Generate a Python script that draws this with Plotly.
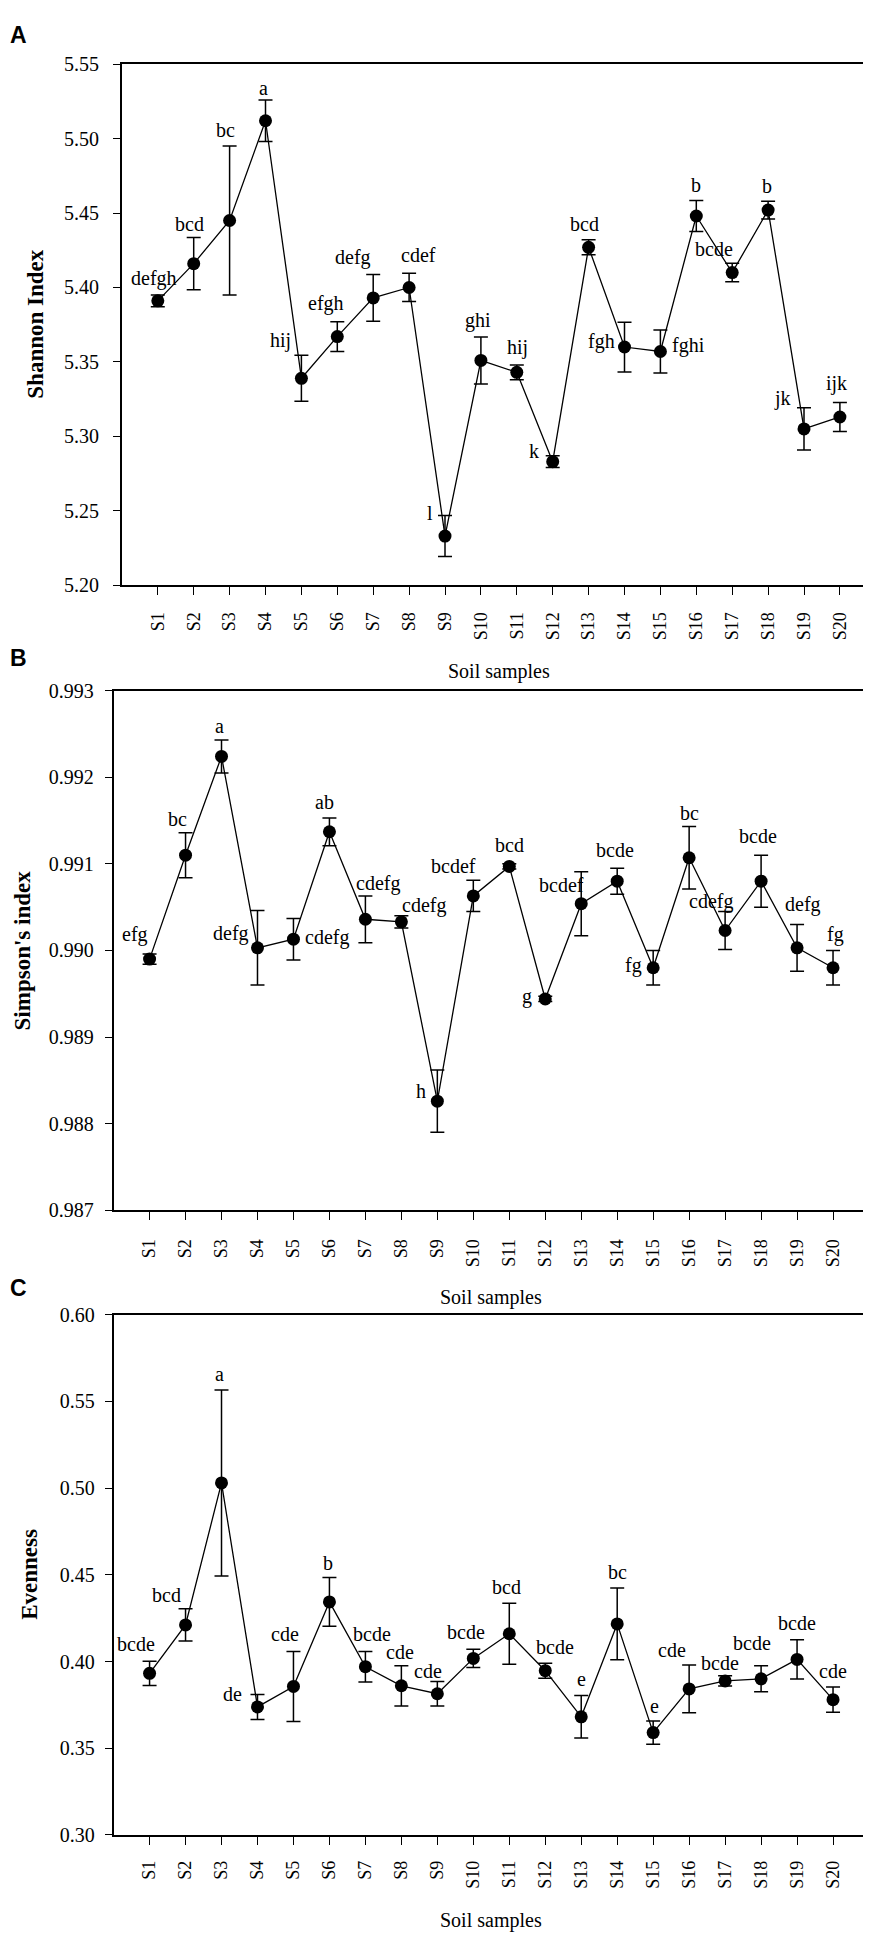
import plotly.graph_objects as go

W, H = 871, 1938

samples = ["S1", "S2", "S3", "S4", "S5", "S6", "S7", "S8", "S9", "S10",
           "S11", "S12", "S13", "S14", "S15", "S16", "S17", "S18", "S19", "S20"]

# Panel A - Shannon Index
shannon = [5.391, 5.416, 5.445, 5.512, 5.339, 5.367, 5.393, 5.400, 5.233, 5.351,
           5.343, 5.283, 5.427, 5.360, 5.357, 5.448, 5.410, 5.452, 5.305, 5.313]
shannon_err = [0.004, 0.0175, 0.050, 0.014, 0.0155, 0.010, 0.0157, 0.0095, 0.0138, 0.0158,
               0.005, 0.004, 0.005, 0.0167, 0.0145, 0.0104, 0.0062, 0.006, 0.0142, 0.0098]
shannon_letters = ["defgh", "bcd", "bc", "a", "hij", "efgh", "defg", "cdef", "l", "ghi",
                   "hij", "k", "bcd", "fgh", "fghi", "b", "bcde", "b", "jk", "ijk"]

# Panel B - Simpson's index
simpson = [0.98990, 0.99110, 0.99224, 0.99003, 0.99013, 0.99137, 0.99036, 0.99033, 0.98826, 0.99063,
           0.99097, 0.98944, 0.99054, 0.99080, 0.98980, 0.99107, 0.99023, 0.99080, 0.99003, 0.98980]
simpson_err = [0.00006, 0.00026, 0.00019, 0.00043, 0.00024, 0.00016, 0.00027, 0.00007, 0.00036, 0.00018,
               0.00003, 0.00003, 0.00037, 0.00015, 0.00020, 0.00036, 0.00022, 0.00030, 0.00027, 0.00020]
simpson_letters = ["efg", "bc", "a", "defg", "cdefg", "ab", "cdefg", "cdefg", "h", "bcdef",
                   "bcd", "g", "bcdef", "bcde", "fg", "bc", "cdefg", "bcde", "defg", "fg"]

# Panel C - Evenness
evenness = [0.3932, 0.4211, 0.503, 0.3738, 0.3856, 0.4344, 0.397, 0.386, 0.3814, 0.4018,
            0.416, 0.3947, 0.3681, 0.4217, 0.359, 0.3842, 0.3888, 0.390, 0.4012, 0.378]
evenness_err = [0.007, 0.0093, 0.0537, 0.0072, 0.0202, 0.014, 0.0088, 0.0116, 0.007, 0.0053,
                0.0176, 0.0043, 0.0123, 0.0207, 0.0067, 0.0138, 0.003, 0.0075, 0.0113, 0.0073]
evenness_letters = ["bcde", "bcd", "a", "de", "cde", "b", "bcde", "cde", "cde", "bcde",
                    "bcd", "bcde", "e", "bc", "e", "cde", "bcde", "bcde", "bcde", "cde"]

# label placement (pixel offsets from marker centre: dx right, dy up)
shift_A = [(-4, 22), (-4, 40), (-4, 90), (-2, 33), (-21, 38), (-11, 33), (-20, 40), (9, 32),
           (-15, 23), (-3, 40), (1, 25), (-19, 11), (-4, 23), (-23, 6), (28, 6), (0, 31),
           (-18, 24), (-1, 24), (-22, 30), (-3, 33)]
shift_B = [(-15, 25), (-8, 36), (-2, 30), (-26, 14), (34, 2), (-5, 30), (13, 36), (23, 16),
           (-16, 10), (-20, 30), (0, 21), (-18, 2), (-20, 19), (-2, 31), (-20, 2), (0, 45),
           (-14, 29), (-3, 45), (6, 43), (2, 33)]
shift_C = [(-14, 29), (-19, 30), (-2, 109), (-25, 13), (-8, 52), (-1, 39), (7, 33), (-1, 34),
           (-9, 23), (-7, 26), (-3, 47), (10, 24), (0, 38), (0, 52), (1, 27), (-17, 39),
           (-5, 18), (-9, 36), (0, 36), (0, 29)]

SERIF = "Liberation Serif, Times New Roman, serif"
SANS = "Liberation Sans, Arial, sans-serif"

panels = [
    dict(vals=shannon, err=shannon_err, letters=shannon_letters, shift=shift_A,
         px=(113.9, 867.8), py=(45.7, 572.7), yrange=[5.20, 5.55], dtick=0.05, fmt=".2f",
         title="Shannon Index", letter="A", letter_y=16, xtitle_y=660, ytitle_x=28, ystand=10, xstand=10),
    dict(vals=simpson, err=simpson_err, letters=simpson_letters, shift=shift_B,
         px=(105.6, 861.0), py=(679.3, 1205.0), yrange=[0.987, 0.993], dtick=0.001, fmt=".3f",
         title="Simpson's index", letter="B", letter_y=646, xtitle_y=1292.7, ytitle_x=14, ystand=7, xstand=12),
    dict(vals=evenness, err=evenness_err, letters=evenness_letters, shift=shift_C,
         px=(105.6, 861.0), py=(1310.7, 1836.7), yrange=[0.30, 0.60], dtick=0.05, fmt=".2f",
         title="Evenness", letter="C", letter_y=1284, xtitle_y=1923.3, ytitle_x=22, ystand=6, xstand=9),
]

fig = go.Figure()
annotations = []
layout = {}

for i, p in enumerate(panels):
    n = "" if i == 0 else str(i + 1)
    xa, ya = "x" + n, "y" + n
    fig.add_trace(go.Scatter(
        x=samples, y=p["vals"], xaxis=xa, yaxis=ya, mode="lines+markers",
        line=dict(color="black", width=1.3),
        marker=dict(color="black", size=13, symbol="circle"),
        error_y=dict(type="data", array=p["err"], visible=True, color="black",
                     thickness=1.5, width=7),
        showlegend=False, hoverinfo="x+y",
    ))
    x0, x1 = p["px"]
    y0, y1 = p["py"]
    layout["xaxis" + n] = dict(
        domain=[x0 / W, x1 / W], anchor=ya, type="category",
        categoryorder="array", categoryarray=samples, range=[-1, 20],
        showline=True, linecolor="black", linewidth=1.6, mirror=True,
        ticks="outside", ticklen=8, tickwidth=1.4, tickcolor="black",
        tickangle=-90, ticklabelstandoff=p["xstand"],
        tickfont=dict(family=SERIF, size=18, color="black"),
        showgrid=False, zeroline=False,
    )
    layout["yaxis" + n] = dict(
        domain=[1 - y1 / H, 1 - y0 / H], anchor=xa, range=p["yrange"],
        dtick=p["dtick"], tick0=p["yrange"][0], tickformat=p["fmt"],
        showline=True, linecolor="black", linewidth=1.6, mirror=True,
        ticks="outside", ticklen=7, tickwidth=1.4, tickcolor="black",
        ticklabelstandoff=p["ystand"],
        tickfont=dict(family=SERIF, size=20, color="black"),
        showgrid=False, zeroline=False,
    )
    # significance letters
    for s, v, lt, (dx, dy) in zip(samples, p["vals"], p["letters"], p["shift"]):
        annotations.append(dict(
            x=s, y=v, xref=xa, yref=ya, text=lt, showarrow=False,
            xanchor="center", yanchor="middle", xshift=dx, yshift=dy,
            font=dict(family=SERIF, size=20, color="black"),
        ))
    # x-axis title
    annotations.append(dict(
        x=(x0 + x1) / 2 / W, y=1 - p["xtitle_y"] / H, xref="paper", yref="paper",
        text="Soil samples", showarrow=False, xanchor="center", yanchor="middle",
        font=dict(family=SERIF, size=20, color="black"),
    ))
    # y-axis title
    annotations.append(dict(
        x=p["ytitle_x"] / W, y=1 - (y0 + y1) / 2 / H, xref="paper", yref="paper",
        text="<b>" + p["title"] + "</b>", showarrow=False, textangle=-90,
        xanchor="center", yanchor="middle",
        font=dict(family=SERIF, size=23, color="black"),
    ))
    # panel letter
    annotations.append(dict(
        x=0, y=1 - p["letter_y"] / H, xref="paper", yref="paper",
        text="<b>" + p["letter"] + "</b>", showarrow=False,
        xanchor="left", yanchor="middle",
        font=dict(family=SANS, size=23, color="black"),
    ))

fig.update_layout(
    width=W, height=H, autosize=False,
    margin=dict(l=0, r=0, t=0, b=0),
    paper_bgcolor="white", plot_bgcolor="white",
    annotations=annotations,
    **layout,
)

fig.write_html("out.html")
